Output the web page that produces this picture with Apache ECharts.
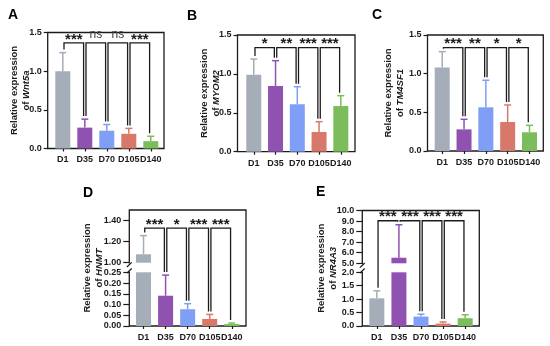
<!DOCTYPE html>
<html><head><meta charset="utf-8">
<script src="https://cdn.jsdelivr.net/npm/echarts@6/dist/echarts.min.js"></script>
<style>html,body{margin:0;padding:0;background:#fff}#c{width:550px;height:346px}</style>
</head><body><div id="c"></div>
<script>
// ---------------- data ----------------
const categories = ['D1', 'D35', 'D70', 'D105', 'D140'];
const barColors = ['#A5ADB8', '#8F52B0', '#7F9EF5', '#D8786A', '#7BBD5A'];

const wnt5aMean  = [1.00, 0.27, 0.23, 0.19, 0.095];
const wnt5aUpper = [1.24, 0.38, 0.31, 0.26, 0.158];
const wnt5aSig   = ['***', 'ns', 'ns', '***'];

const myom2Mean  = [0.99, 0.845, 0.61, 0.253, 0.587];
const myom2Upper = [1.19, 1.17, 0.835, 0.386, 0.72];
const myom2Sig   = ['*', '**', '***', '***'];

const tm4sf1Mean  = [1.08, 0.28, 0.565, 0.375, 0.242];
const tm4sf1Upper = [1.285, 0.41, 0.915, 0.595, 0.332];
const tm4sf1Sig   = ['***', '**', '*', '*'];

const hnmtMean  = [1.08, 0.141, 0.078, 0.033, 0.009];
const hnmtUpper = [1.257, 0.237, 0.104, 0.054, 0.014];
const hnmtSig   = ['***', '*', '***', '***'];

const nr4a3Mean  = [1.03, 5.53, 0.35, 0.09, 0.29];
const nr4a3Upper = [1.31, 8.65, 0.44, 0.15, 0.42];
const nr4a3Sig   = ['***', '***', '***', '***'];

const ticksABC        = [0, 0.5, 1.0, 1.5];
const hnmtTicksTop    = [1.0, 1.2, 1.4];
const hnmtTicksBottom = [0, 0.05, 0.10, 0.15, 0.20, 0.25];
const nr4a3TicksTop   = [5, 6, 7, 8, 9, 10];
const nr4a3TicksBottom= [0, 0.5, 1.0, 1.5, 2.0];

// ---------------- layout / style ----------------
const FONT = '"Liberation Sans", Arial, Helvetica, sans-serif';
const INK = '#1b1b1b';

const panels = [
  { letter: 'A', gene: 'Wnt5a', mean: wnt5aMean, upper: wnt5aUpper, sig: wnt5aSig, bracketAt: 1.365,
    frame: [47.7, 164, 32.5, 148.5], dataX: [51.8, 161.8], nameGap: 15, letterXY: [8, 8], tickLen: 4, labMargin: 6,
    segs: [{ y0: 32.5, y1: 148.5, min: 0, max: 1.5, interval: 0.5, ticks: ticksABC, dec: 1 }] },
  { letter: 'B', gene: 'MYOM2', mean: myom2Mean, upper: myom2Upper, sig: myom2Sig, bracketAt: 1.337,
    frame: [237.5, 355, 35, 151.7], dataX: [242.9, 351.7], nameGap: 15.5, letterXY: [187, 9], tickLen: 4, labMargin: 6,
    segs: [{ y0: 35, y1: 151.7, min: 0, max: 1.5, interval: 0.5, ticks: ticksABC, dec: 1 }] },
  { letter: 'C', gene: 'TM4SF1', mean: tm4sf1Mean, upper: tm4sf1Upper, sig: tm4sf1Sig, bracketAt: 1.336,
    frame: [427.5, 543.3, 35, 151], dataX: [431.3, 540.4], nameGap: 21.5, letterXY: [372, 8], tickLen: 4, labMargin: 6,
    segs: [{ y0: 35, y1: 151, min: 0, max: 1.5, interval: 0.5, ticks: ticksABC, dec: 1 }] },
  { letter: 'D', gene: 'HNMT', mean: hnmtMean, upper: hnmtUpper, sig: hnmtSig, bracketAt: 1.328,
    frame: [129.3, 246, 210, 326], dataX: [132.5, 242.8], nameGap: 24, letterXY: [83, 186], tickLen: 6, labMargin: 8, broken: true,
    segs: [{ y0: 210, y1: 262.7, min: 1.0, max: 1.5, interval: 0.2, ticks: hnmtTicksTop, dec: 2 },
           { y0: 272.3, y1: 326, min: 0, max: 0.25, interval: 0.05, ticks: hnmtTicksBottom, dec: 2 }] },
  { letter: 'E', gene: 'NR4A3', mean: nr4a3Mean, upper: nr4a3Upper, sig: nr4a3Sig, bracketAt: 9.03,
    frame: [362.3, 479.3, 210.5, 326], dataX: [365.8, 476.2], nameGap: 22.5, letterXY: [316, 185], tickLen: 6, labMargin: 8, broken: true,
    segs: [{ y0: 210.5, y1: 263.3, min: 5, max: 10, interval: 1, ticks: nr4a3TicksTop, dec: 1 },
           { y0: 272.3, y1: 326, min: 0, max: 2, interval: 0.5, ticks: nr4a3TicksBottom, dec: 1 }] }
];

const chart = echarts.init(document.getElementById('c'), null, { renderer: 'canvas' });
const grid = [], xAxis = [], yAxis = [], series = [];

panels.forEach(p => {
  const fg = grid.length;
  grid.push({ left: p.frame[0], top: p.frame[2], width: p.frame[1] - p.frame[0], height: p.frame[3] - p.frame[2],
    show: true, borderColor: INK, borderWidth: 1.3, backgroundColor: 'rgba(0,0,0,0)', outerBoundsMode: 'none', containLabel: false });
  xAxis.push({ gridIndex: fg, type: 'value', min: 0, max: 1, show: false });
  yAxis.push({ gridIndex: fg, type: 'value', min: 0, max: 1,
    axisLine: { show: false }, axisTick: { show: false }, axisLabel: { show: false }, splitLine: { show: false },
    name: 'Relative expression\n{g|of }{i|' + p.gene + '}', nameLocation: 'middle', nameGap: p.nameGap,
    nameTextStyle: { fontFamily: FONT, fontWeight: 'bold', fontSize: 9.5, color: INK, lineHeight: 12,
      rich: { g: { fontFamily: FONT, fontWeight: 'bold', fontSize: 9.5, color: INK, lineHeight: 12 },
              i: { fontFamily: FONT, fontWeight: 'bold', fontStyle: 'italic', fontSize: 9.5, color: INK, lineHeight: 12 } } } });

  p.segs.forEach((s, si) => {
    const last = si === p.segs.length - 1;
    const g = grid.length;
    grid.push({ left: p.dataX[0], top: s.y0, width: p.dataX[1] - p.dataX[0], height: s.y1 - s.y0, outerBoundsMode: 'none', containLabel: false });
    s.xi = xAxis.length; s.yi = yAxis.length;
    xAxis.push({ gridIndex: g, type: 'category', data: categories, show: last,
      axisLine: { show: false, onZero: false },
      axisTick: { show: true, alignWithLabel: true, length: 3, lineStyle: { color: INK, width: 1.2 } },
      axisLabel: { show: true, margin: 7, fontFamily: FONT, fontWeight: 'bold', fontSize: 9, color: INK, interval: 0 },
      splitLine: { show: false } });
    yAxis.push({ gridIndex: g, type: 'value', min: s.min, max: s.max, interval: s.interval, offset: p.dataX[0] - p.frame[0],
      axisLine: { show: false, onZero: false },
      axisTick: { show: true, length: p.tickLen, customValues: s.ticks, lineStyle: { color: INK, width: 1.2 } },
      axisLabel: { show: true, margin: p.labMargin, customValues: s.ticks, fontFamily: FONT, fontWeight: 'bold', fontSize: 9, color: INK,
        formatter: v => Number(v).toFixed(s.dec) },
      splitLine: { show: false } });
    series.push({ type: 'bar', xAxisIndex: s.xi, yAxisIndex: s.yi, barWidth: 15, clip: true, z: 2,
      data: p.mean.map((v, i) => ({ value: v, itemStyle: { color: barColors[i] } })) });
    series.push({ type: 'custom', xAxisIndex: s.xi, yAxisIndex: s.yi, z: 3,
      data: p.mean.map((m, i) => [i, m, p.upper[i]]),
      renderItem: (params, api) => {
        const i = api.value(0);
        const base = api.coord([i, api.value(1)]);
        const tip = api.coord([i, api.value(2)]);
        const cs = params.coordSys;
        const top = cs.y, bot = cs.y + cs.height;
        const ya = Math.max(tip[1], top), yb = Math.min(base[1], bot);
        if (!(ya < yb)) return null;
        const col = barColors[i];
        const children = [{ type: 'line', shape: { x1: base[0], y1: ya, x2: base[0], y2: yb }, style: { stroke: col, lineWidth: 1.5 } }];
        if (tip[1] >= top) children.push({ type: 'line', shape: { x1: base[0] - 3.5, y1: tip[1], x2: base[0] + 3.5, y2: tip[1] }, style: { stroke: col, lineWidth: 1.5 } });
        return { type: 'group', children };
      } });
  });
});

chart.setOption({ animation: false, backgroundColor: '#fff', grid, xAxis, yAxis, series });

// ---------- annotations placed through the chart's own scales ----------
const graphic = [];
function yPix(p, v) {
  for (const s of p.segs) {
    if (v >= s.min && v <= s.max) return chart.convertToPixel({ xAxisIndex: s.xi, yAxisIndex: s.yi }, [0, v])[1];
  }
  const s = p.segs[p.segs.length - 1];
  return chart.convertToPixel({ xAxisIndex: s.xi, yAxisIndex: s.yi }, [0, v])[1];
}
function xPix(p, i) {
  const s = p.segs[p.segs.length - 1];
  return chart.convertToPixel({ xAxisIndex: s.xi, yAxisIndex: s.yi }, [i, s.min])[0];
}
panels.forEach(p => {
  graphic.push({ type: 'text', x: p.letterXY[0], y: p.letterXY[1], z: 20,
    style: { text: p.letter, font: 'bold 14px ' + FONT, fill: '#000', align: 'left', verticalAlign: 'top' } });
  const yLine = yPix(p, p.bracketAt);
  p.sig.forEach((lab, k) => {
    const xa = xPix(p, k) + 1.2, xb = xPix(p, k + 1) - 1.2;
    const ea = Math.max(yLine + 1, yPix(p, p.upper[k]) - 3);
    const eb = Math.max(yLine + 1, yPix(p, p.upper[k + 1]) - 3);
    graphic.push({ type: 'polyline', z: 20, shape: { points: [[xa, ea], [xa, yLine], [xb, yLine], [xb, eb]] },
      style: { stroke: INK, lineWidth: 1.3, fill: null } });
    const isNs = lab === 'ns';
    graphic.push({ type: 'text', z: 20, x: (xa + xb) / 2, y: isNs ? yLine - 2.5 : yLine + 4,
      style: { text: lab, font: (isNs ? 'normal 12px ' : 'bold 15px ') + FONT,
        fill: isNs ? '#3a3a3a' : INK, align: 'center', verticalAlign: 'bottom' } });
  });
  if (p.broken) {
    const x = p.frame[0];
    const yt = p.segs[0].y1, yb = p.segs[1].y0;
    graphic.push({ type: 'rect', z: 15, shape: { x: x - 2, y: yt + 0.8, width: 4, height: yb - yt - 1.6 }, style: { fill: '#fff' } });
    [yt + 2, yb - 1.5].forEach(cy => {
      graphic.push({ type: 'line', z: 16, shape: { x1: x - 2.4, y1: cy + 2.3, x2: x + 2.4, y2: cy - 2.3 }, style: { stroke: INK, lineWidth: 1.3 } });
    });
  }
});
chart.setOption({ graphic });
</script></body></html>
